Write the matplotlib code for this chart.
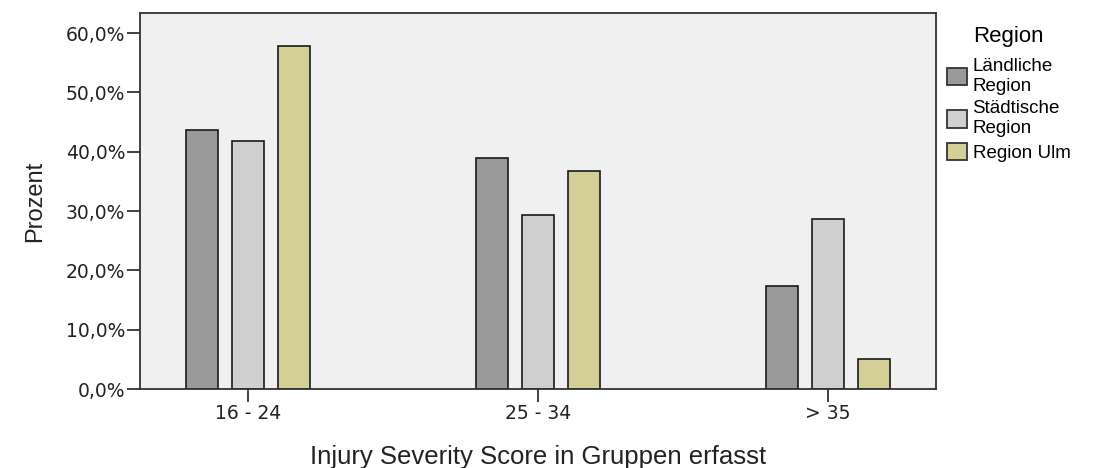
import numpy as np
import matplotlib
matplotlib.use("Agg")
import matplotlib.pyplot as plt
from matplotlib.ticker import FuncFormatter

# values (percent)
groups = ["16 - 24", "25 - 34", "> 35"]
regions = ["Ländliche\nRegion", "Städtische\nRegion", "Region Ulm"]
laendlich = [43.7, 38.9, 17.3]
staedtisch = [41.8, 29.4, 28.7]
ulm = [57.9, 36.8, 5.0]
colors = ["#9a9a9a", "#cfcfcf", "#d3cf97"]

plt.rcParams['font.family'] = ['Liberation Sans', 'DejaVu Sans']

fig = plt.figure(figsize=(10.96, 4.68), dpi=100)
ax = fig.add_axes([0.1277, 0.1688, 0.7263, 0.8035])
ax.set_facecolor("#f0f0f0")

x = np.arange(len(groups))
w = 0.11
step = 0.159
for i, (vals, c, lab) in enumerate(zip([laendlich, staedtisch, ulm], colors, regions)):
    ax.bar(x + (i - 1) * step, vals, width=w, color=c, edgecolor="#1a1a1a",
           linewidth=1.2, label=lab)

ax.set_xlim(-0.372, 2.372)
ax.set_ylim(0, 63.4)
ax.set_yticks(np.arange(0, 61, 10))
ax.yaxis.set_major_formatter(FuncFormatter(lambda v, p: f"{v:.1f}%".replace(".", ",")))
ax.set_xticks(x)
ax.set_xticklabels(groups)

for s in ax.spines.values():
    s.set_color("#333333")
    s.set_linewidth(1.3)
ax.tick_params(axis="both", direction="out", length=9.5, width=1.3, color="#333333",
               labelsize=13.5, labelcolor="#222222", pad=1)
for t in ax.get_yticklabels() + ax.get_xticklabels():
    t.set_family("DejaVu Sans")

ax.set_ylabel("Prozent", fontsize=17, color="#222222", labelpad=14)
ax.set_xlabel("Injury Severity Score in Gruppen erfasst", fontsize=18.5, color="#222222", labelpad=16)

leg = ax.legend(title="Region", loc="upper left", bbox_to_anchor=(1.0, 0.995),
                frameon=False, fontsize=13.5, title_fontsize=16,
                handlelength=1.05, handleheight=1.05, handletextpad=0.3,
                labelspacing=0.3, borderaxespad=0.3, borderpad=0.3)
leg._legend_box.sep = 8  # gap between title and entries
for h in leg.legend_handles:
    h.set_edgecolor("#333333")
    h.set_linewidth(1.3)

fig.savefig("out.png", dpi=100)
